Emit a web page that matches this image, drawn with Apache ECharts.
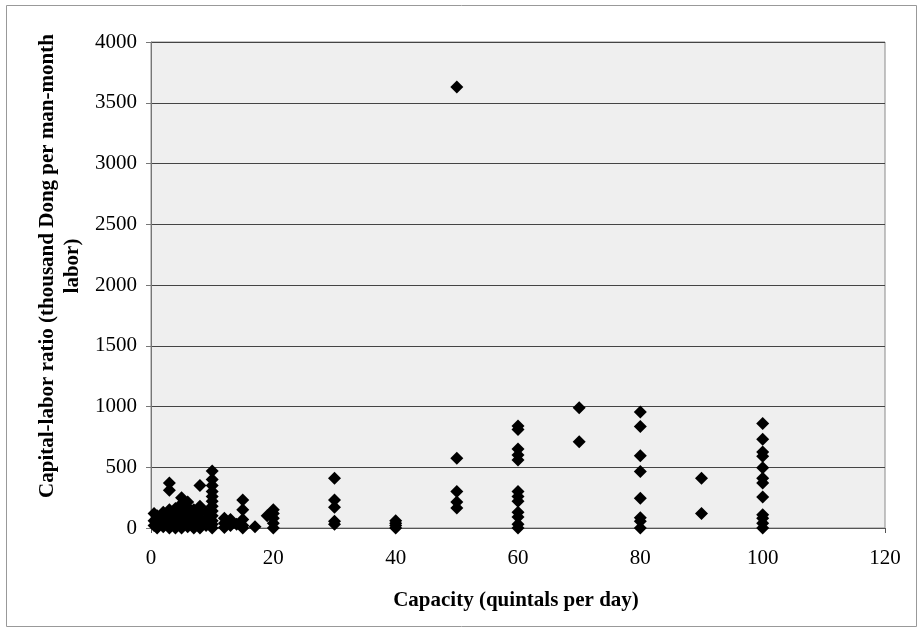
<!DOCTYPE html>
<html>
<head>
    <meta charset="utf-8">
    <title>Capital-labor ratio vs capacity</title>
    <script src="https://cdn.jsdelivr.net/npm/echarts@6/dist/echarts.min.js"></script>
    <style>
        html, body { margin: 0; padding: 0; background: #fff; }
        #chart { width: 919px; height: 635px; }
    </style>
</head>
<body>
<div id="chart"></div>
<script>
    // capacity (quintals per day) and capital-labor ratio
    var capacity = [
        0.5, 0.5, 0.5, 1, 1, 1, 1.5, 2, 2, 2, 2, 2.5,
        3, 3, 3, 3, 3, 3, 3, 4, 4, 4, 4, 4,
        5, 5, 5, 5, 5, 5, 6, 6, 6, 6, 6, 7, 7, 7, 7,
        8, 8, 8, 8, 8, 8, 9, 9, 9,
        10, 10, 10, 10, 10, 10, 10, 10, 10, 10, 10, 10,
        12, 12, 12, 13, 13, 14, 15, 15, 15, 15, 15, 17, 19,
        20, 20, 20, 20, 20,
        30, 30, 30, 30, 30,
        40, 40, 40, 40,
        50, 50, 50, 50, 50,
        60, 60, 60, 60, 60, 60, 60, 60, 60, 60, 60, 60,
        70, 70,
        80, 80, 80, 80, 80, 80, 80, 80,
        90, 90,
        100, 100, 100, 100, 100, 100, 100, 100, 100, 100, 100, 100
    ];
    var ratio = [
        120, 60, 20, 100, 40, 0, 80, 130, 90, 50, 10, 110,
        370, 310, 150, 100, 60, 20, 0, 160, 120, 70, 30, 0,
        250, 200, 140, 90, 40, 0, 215, 170, 120, 60, 10, 150, 100, 50, 0,
        350, 180, 130, 80, 30, 0, 130, 70, 20,
        470, 400, 350, 300, 260, 220, 180, 140, 100, 60, 30, 0,
        80, 40, 5, 70, 20, 30, 230, 150, 70, 20, 0, 10, 100,
        150, 120, 80, 40, 0,
        410, 230, 170, 55, 30,
        60, 40, 20, 0,
        3630, 575, 300, 215, 165,
        840, 810, 650, 600, 560, 300, 260, 220, 130, 90, 30, 0,
        990, 710,
        955, 835, 595, 465, 245, 85, 55, 0,
        410, 120,
        860, 730, 625, 590, 495, 410, 370, 255, 110, 80, 40, 0
    ];
    var xTicks = [0, 20, 40, 60, 80, 100, 120];
    var yTicks = [0, 500, 1000, 1500, 2000, 2500, 3000, 3500, 4000];

    var points = capacity.map(function (c, i) { return [c, ratio[i]]; });
    var serif = '"Liberation Serif", "Times New Roman", serif';

    var chart = echarts.init(document.getElementById('chart'));
    chart.setOption({
        animation: false,
        grid: {
            left: 151, right: 34, top: 42, bottom: 107,
            show: true,
            backgroundColor: '#efefef',
            borderColor: '#8a8a8a',
            borderWidth: 1
        },
        xAxis: {
            type: 'value',
            min: xTicks[0],
            max: xTicks[xTicks.length - 1],
            interval: 20,
            axisLine: { show: true, onZero: false, lineStyle: { color: '#555', width: 1 } },
            axisTick: { show: true, length: 5, lineStyle: { color: '#555' } },
            splitLine: { show: false },
            axisLabel: {
                fontFamily: serif, fontSize: 21, color: '#000', margin: 20,
                formatter: function (v) { return String(v); }
            }
        },
        yAxis: {
            type: 'value',
            min: yTicks[0],
            max: yTicks[yTicks.length - 1],
            interval: 500,
            axisLine: { show: true, lineStyle: { color: '#777', width: 1 } },
            axisTick: { show: true, length: 5, lineStyle: { color: '#777' } },
            splitLine: { show: true, lineStyle: { color: '#444', width: 1 } },
            axisLabel: {
                fontFamily: serif, fontSize: 21, color: '#000', margin: 14,
                formatter: function (v) { return String(v); }
            }
        },
        graphic: [
            {
                type: 'rect',
                shape: { x: 6.5, y: 5.5, width: 910, height: 621 },
                style: { fill: null, stroke: '#999', lineWidth: 1 },
                silent: true
            },
            {
                type: 'text',
                x: 60, y: 266,
                rotation: Math.PI / 2,
                style: {
                    text: 'Capital-labor ratio (thousand Dong per man-month\nlabor)',
                    fontFamily: serif, fontSize: 21, fontWeight: 'bold',
                    lineHeight: 25, align: 'center', verticalAlign: 'middle', fill: '#000'
                }
            },
            {
                type: 'text',
                x: 516, y: 601,
                style: {
                    text: 'Capacity (quintals per day)',
                    fontFamily: serif, fontSize: 21, fontWeight: 'bold',
                    align: 'center', verticalAlign: 'middle', fill: '#000'
                }
            }
        ],
        series: [
            {
                type: 'scatter',
                symbol: 'diamond',
                symbolSize: 13,
                itemStyle: { color: '#000', opacity: 1 },
                data: points
            }
        ]
    });

    window.onresize = function () {
        chart.resize();
    };
</script>
</body>
</html>
